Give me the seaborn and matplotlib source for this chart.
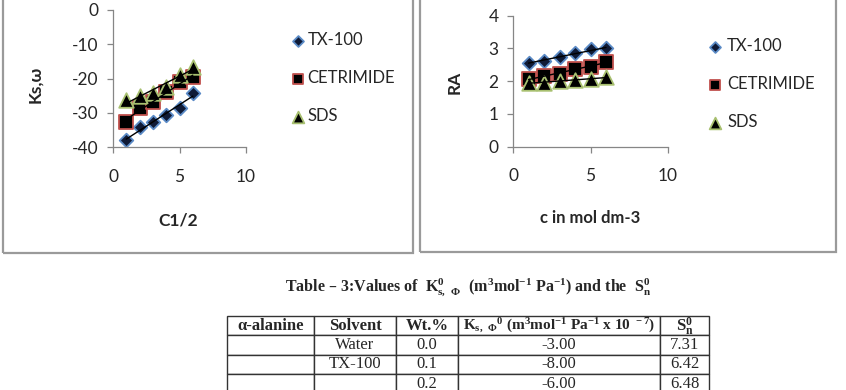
import numpy as np
import pandas as pd
import seaborn as sns
import matplotlib.pyplot as plt
from matplotlib.patches import Rectangle

# data
conc = [1, 2, 3, 4, 5, 6]
ks_tx = [-38.0, -34.3, -32.6, -30.8, -28.6, -24.2]
ks_cet = [-32.6, -28.6, -27.0, -24.0, -21.0, -19.7]
ks_sds = [-26.4, -25.2, -24.1, -22.4, -19.0, -16.6]
ra_tx = [2.56, 2.62, 2.75, 2.85, 2.97, 3.00]
ra_cet = [2.07, 2.16, 2.22, 2.36, 2.44, 2.60]
ra_sds = [1.95, 1.96, 2.00, 2.04, 2.07, 2.12]
series = ['TX-100', 'CETRIMIDE', 'SDS']

tbl_cols = ['α-alanine', 'Solvent', 'Wt.%',
            r'K$_{s,\ Φ}$$^{0}$ (m$^{3}$mol$^{-1}$ Pa$^{-1}$ x 10$^{\ -7}$)',
            r'S$^{0}_{n}$']
tbl_solvent = ['Water', 'TX-100', '']
tbl_wt = ['0.0', '0.1', '0.2']
tbl_ks = ['-3.00', '-8.00', '-6.00']
tbl_sn = ['7.31', '6.42', '6.48']

sns.set_style('white')
plt.rcParams['font.family'] = ['Lato', 'DejaVu Sans']
plt.rcParams['mathtext.default'] = 'regular'
plt.rcParams['axes.unicode_minus'] = False

styles = {
    'TX-100': dict(marker='D', s=48, color='#0f1a36', edgecolor='#5a8ac6'),
    'CETRIMIDE': dict(marker='s', s=90, color='#000000', edgecolor='#c0504d'),
    'SDS': dict(marker='^', s=110, color='#000000', edgecolor='#a8c070'),
}

fig = plt.figure(figsize=(8.46, 3.9), dpi=100)
W, H = 846, 390

def fx(px):
    return px / W

def fy(py):
    return 1 - py / H

# panel frames
for x0, x1, y1 in [(3, 413, 253), (420, 836, 252)]:
    fig.patches.append(Rectangle((fx(x0), fy(y1)), fx(x1 - x0), fy(-20) - fy(y1),
                                 transform=fig.transFigure, fill=False,
                                 edgecolor='#9a9a9a', lw=1.6))

ax1 = fig.add_axes([fx(113), fy(147), fx(246 - 113), (147 - 10) / H])
ax2 = fig.add_axes([fx(513), fy(146.7), fx(668 - 513), (146.7 - 15.7) / H])

left = pd.DataFrame({'x': conc * 3, 'y': ks_tx + ks_cet + ks_sds,
                     'surf': np.repeat(series, 6)})
right = pd.DataFrame({'x': conc * 3, 'y': ra_tx + ra_cet + ra_sds,
                      'surf': np.repeat(series, 6)})

for ax, df in [(ax1, left), (ax2, right)]:
    for name in series:
        d = df[df.surf == name]
        sns.scatterplot(x='x', y='y', data=d, label=name, ax=ax, zorder=2,
                        linewidth=1.3, **styles[name])
        sns.regplot(x='x', y='y', data=d, scatter=False, ci=None, truncate=True,
                    color='black', line_kws={'lw': 1.0, 'zorder': 3}, ax=ax)
    ax.set_xlim(0, 10)
    ax.set_xticks([0, 5, 10])
    sns.despine(ax=ax)
    for sp in ['left', 'bottom']:
        ax.spines[sp].set_color('#868686')
        ax.spines[sp].set_linewidth(0.9)
    ax.tick_params(axis='both', direction='out', length=4.5, width=0.9,
                   color='#868686', labelsize=12.5, left=True, bottom=True)
    ax.tick_params(axis='y', pad=6)
    ax.tick_params(axis='x', pad=11)

ax1.set_ylim(-40, 0)
ax1.set_yticks([-40, -30, -20, -10, 0])
ax2.set_ylim(0, 4)
ax2.set_yticks([0, 1, 2, 3, 4])

ax1.set_xlabel('C1/2', fontsize=12.5, fontweight='bold')
ax1.set_ylabel('Ks,ω', fontsize=12.5, fontweight='bold')
ax2.set_xlabel('c in mol dm-3', fontsize=12, fontweight='bold')
ax2.set_ylabel('RA', fontsize=12.5, fontweight='bold')
for ax in (ax1, ax2):
    ax.xaxis.label.set_va('center')
    ax.yaxis.label.set_va('center')
ax1.xaxis.set_label_coords((178 - 113) / 133, (147 - 220) / 137)
ax1.yaxis.set_label_coords((35 - 113) / 133, (147 - 84) / 137)
ax2.xaxis.set_label_coords((590 - 513) / 155, (146.7 - 218) / 131)
ax2.yaxis.set_label_coords((455 - 513) / 155, (146.7 - 82) / 131)

for ax, lx, ly, pad in [(ax1, 290, 32, 0.05), (ax2, 707, 38, 0.2)]:
    ax.legend(loc='upper left', bbox_to_anchor=(fx(lx), fy(ly)),
              bbox_transform=fig.transFigure, frameon=False, fontsize=12,
              handletextpad=pad, labelspacing=1.32, markerscale=0.8,
              handlelength=1.0, borderpad=0, borderaxespad=0)

# caption and table
fig.text(fx(468), fy(287),
         r'Table – 3:Values of  K$^{0}_{s,\ Φ}$  (m$^{3}$mol$^{-1}$ Pa$^{-1}$) and the  S$^{0}_{n}$',
         ha='center', va='center', fontsize=11.5, fontweight='bold',
         family=['Liberation Serif', 'DejaVu Serif'])

tax = fig.add_axes([0, 0, 1, 1])
tax.axis('off')
rows = [['', s, w, k, n] for s, w, k, n in zip(tbl_solvent, tbl_wt, tbl_ks, tbl_sn)]
widths = np.array([87.3, 82, 62, 202, 49]) / W
x_left, x_right = 226.7, 709
top, bottom = 316, 316 + 4 * 19.3
tb = tax.table(cellText=rows, colLabels=tbl_cols, colWidths=list(widths),
               cellLoc='center',
               bbox=[fx(x_left), fy(bottom), fx(x_right - x_left), (bottom - top) / H])
tb.auto_set_font_size(False)
for (r, c), cell in tb.get_celld().items():
    cell.set_edgecolor('#333333')
    cell.set_linewidth(1.0)
    cell.set_clip_on(False)
    t = cell.get_text()
    t.set_fontfamily(['Liberation Serif', 'DejaVu Serif'])
    t.set_fontsize(12)
    if r == 0:
        t.set_fontweight('bold')
        if c == 3:
            t.set_fontsize(11)

fig.savefig('out.png', dpi=100)
